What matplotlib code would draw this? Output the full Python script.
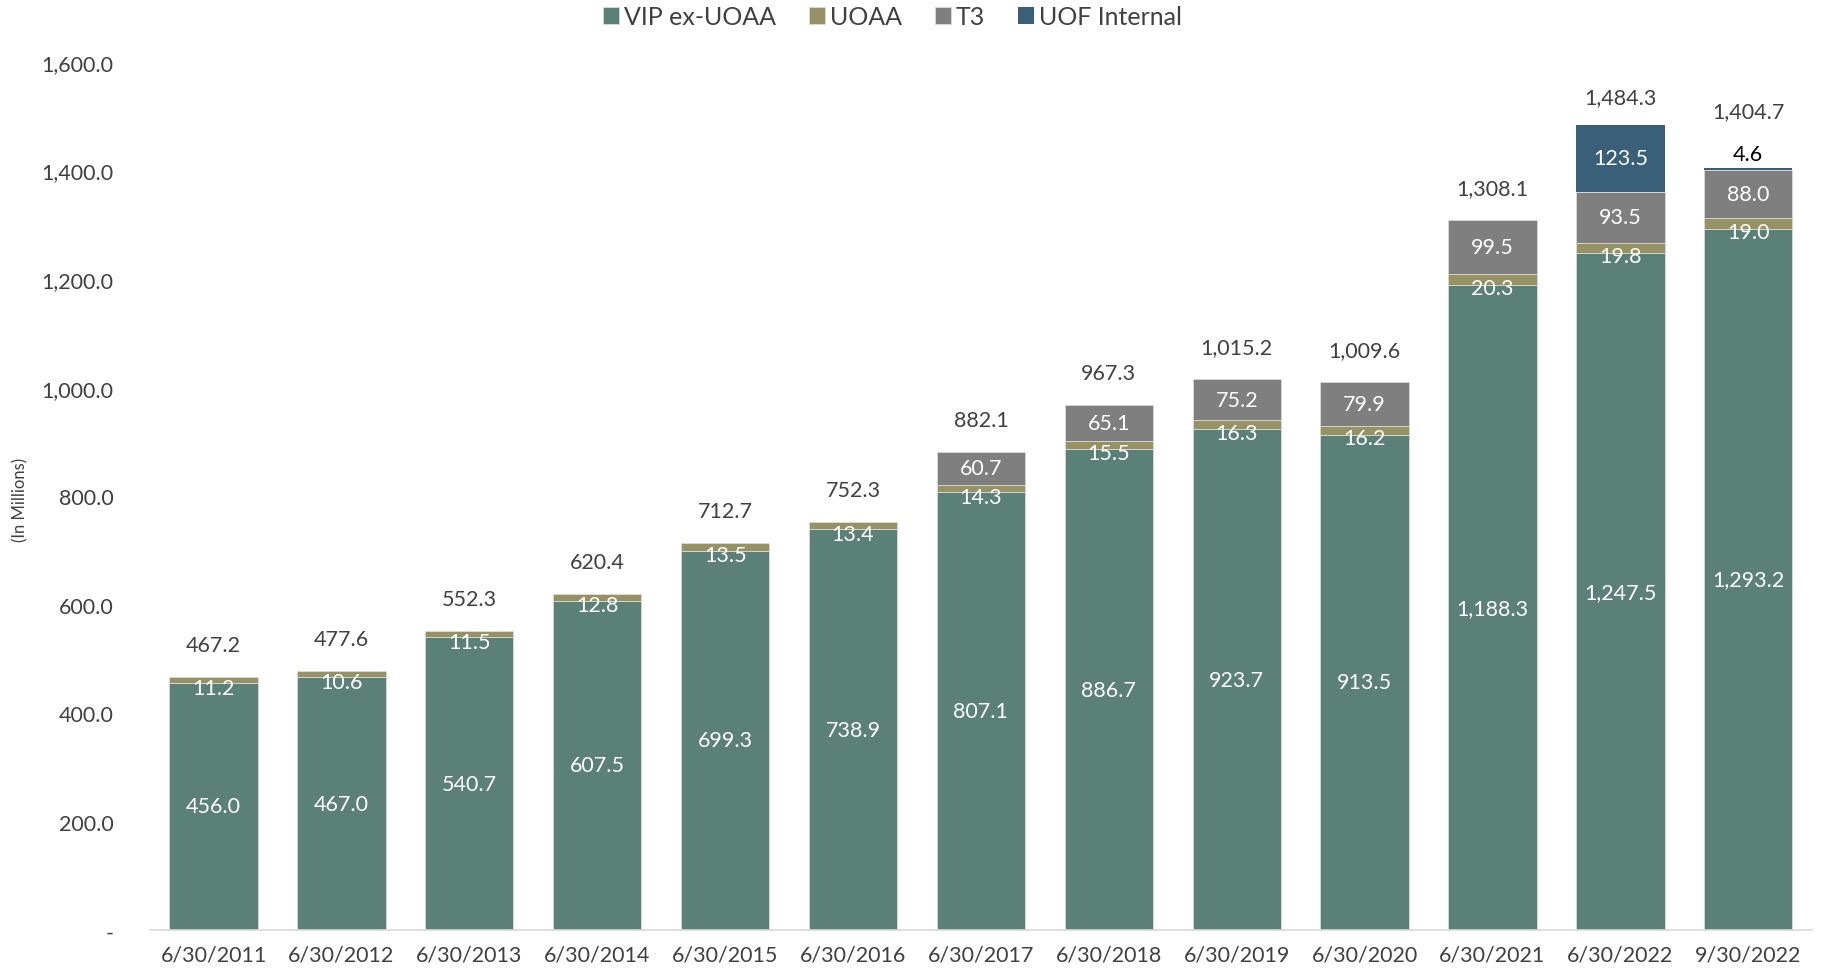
import matplotlib.pyplot as plt
import numpy as np

plt.rcParams['font.family'] = ['Lato', 'DejaVu Sans']

dates = ['6/30/2011', '6/30/2012', '6/30/2013', '6/30/2014', '6/30/2015', '6/30/2016',
         '6/30/2017', '6/30/2018', '6/30/2019', '6/30/2020', '6/30/2021', '6/30/2022', '9/30/2022']
vip = [456.0, 467.0, 540.7, 607.5, 699.3, 738.9, 807.1, 886.7, 923.7, 913.5, 1188.3, 1247.5, 1293.2]
uoaa = [11.2, 10.6, 11.5, 12.8, 13.5, 13.4, 14.3, 15.5, 16.3, 16.2, 20.3, 19.8, 19.0]
t3 = [0, 0, 0, 0, 0, 0, 60.7, 65.1, 75.2, 79.9, 99.5, 93.5, 88.0]
uof = [0, 0, 0, 0, 0, 0, 0, 0, 0, 0, 0, 123.5, 4.6]
totals = [467.2, 477.6, 552.3, 620.4, 712.7, 752.3, 882.1, 967.3, 1015.2, 1009.6, 1308.1, 1484.3, 1404.7]

c_vip = '#5b8078'
c_uoaa = '#979264'
c_t3 = '#7f7f7f'
c_uof = '#3a6079'
txt = '#404040'

fig = plt.figure(figsize=(18.25, 9.7), dpi=100)
ax = fig.add_axes([0.082, 0.04, 0.911, 0.895])

x = np.arange(len(dates))
w = 0.69
vip = np.array(vip); uoaa = np.array(uoaa); t3 = np.array(t3); uof = np.array(uof)

b1 = ax.bar(x, vip, w, color=c_vip, label='VIP ex-UOAA', edgecolor='#d9d9d9', linewidth=0.6)
b2 = ax.bar(x, uoaa, w, bottom=vip, color=c_uoaa, label='UOAA', edgecolor='#d9d9d9', linewidth=0.6)
b3 = ax.bar(x, t3, w, bottom=vip + uoaa, color=c_t3, label='T3', edgecolor='#d9d9d9', linewidth=0.6)
b4 = ax.bar(x, uof, w, bottom=vip + uoaa + t3, color=c_uof, label='UOF Internal', linewidth=0)

fs = 15.5
for i in x:
    ax.text(i, vip[i] / 2, f'{vip[i]:,.1f}', ha='center', va='center', color='white', fontsize=fs)
    ax.annotate(f'{uoaa[i]:,.1f}', (i, vip[i] + uoaa[i] / 2), xytext=(0, -6), textcoords='offset points',
                ha='center', va='center', color='white', fontsize=fs)
    if t3[i] > 0:
        ax.text(i, vip[i] + uoaa[i] + t3[i] / 2, f'{t3[i]:,.1f}', ha='center', va='center',
                color='white', fontsize=fs)
    top = vip[i] + uoaa[i] + t3[i] + uof[i]
    if uof[i] > 50:
        ax.text(i, vip[i] + uoaa[i] + t3[i] + uof[i] / 2, f'{uof[i]:,.1f}', ha='center', va='center',
                color='white', fontsize=fs)
        off = 20
    elif uof[i] > 0:
        ax.annotate(f'{uof[i]:,.1f}', (i, top), xytext=(0, 10), textcoords='offset points',
                    ha='center', va='center', color='black', fontsize=fs)
        off = 41
    else:
        off = 23
    ax.annotate(f'{totals[i]:,.1f}', (i, top), xytext=(0, off), textcoords='offset points',
                ha='center', va='center', color=txt, fontsize=fs)

ax.set_xlim(-0.5, len(dates) - 0.5)
ax.set_ylim(0, 1600)
ax.set_yticks(np.arange(0, 1601, 200))
ax.set_yticklabels(['-'] + [f'{v:,.1f}' for v in np.arange(200, 1601, 200)])
ax.set_xticks(x)
ax.set_xticklabels(dates)
ax.tick_params(axis='both', length=0, labelsize=fs, colors=txt)
ax.tick_params(axis='y', pad=26)
ax.tick_params(axis='x', pad=10)
for s in ['top', 'right', 'left']:
    ax.spines[s].set_visible(False)
ax.spines['bottom'].set_color('#d9d9d9')
ax.spines['bottom'].set_linewidth(1.2)

fig.text(0.011, 0.485, '(In Millions)', rotation=90, ha='center', va='center', fontsize=12, color=txt)

fig.legend(handles=[b1, b2, b3, b4], loc='center', bbox_to_anchor=(0.489, 0.982), ncol=4,
           frameon=False, fontsize=18, handlelength=0.65, handleheight=0.65, handletextpad=0.2,
           columnspacing=1.3, labelcolor=txt)

fig.savefig('out.png', dpi=100)
